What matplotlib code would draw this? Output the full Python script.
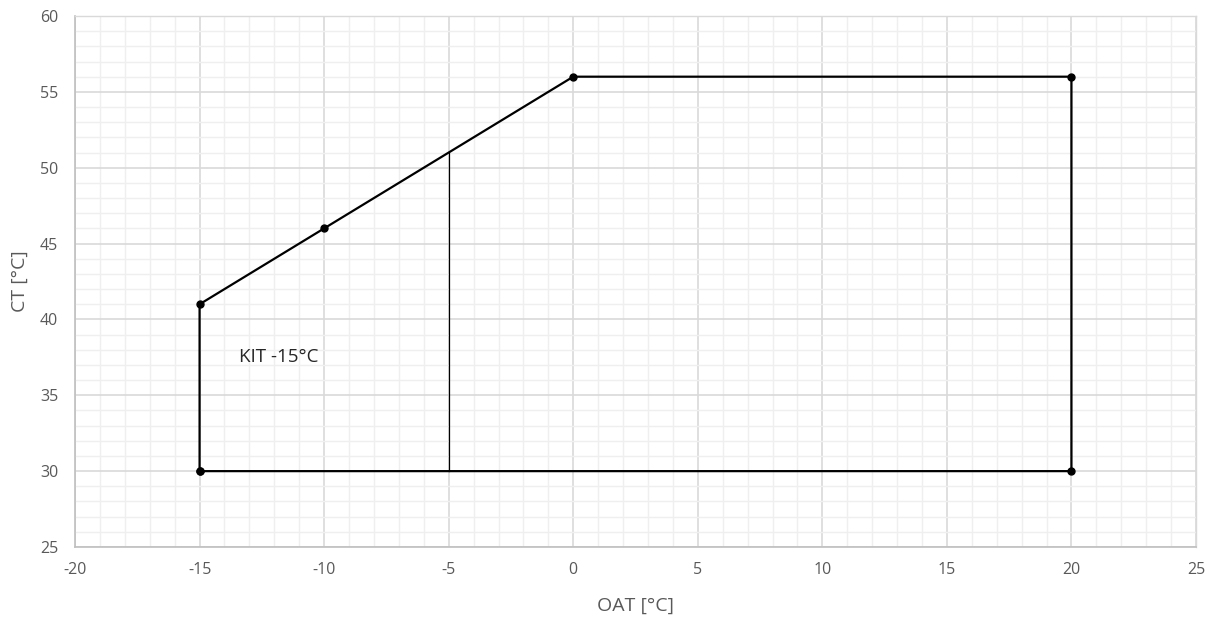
import matplotlib
matplotlib.use("Agg")
import matplotlib.pyplot as plt
from matplotlib.ticker import MultipleLocator

plt.rcParams['font.family'] = ['Open Sans', 'DejaVu Sans']
plt.rcParams['axes.unicode_minus'] = False

# Envelope data
oat = [-15, -15, -10, 0, 20, 20, -15]
ct = [30, 41, 46, 56, 56, 30, 30]
# Divider line
div_x = [-5, -5]
div_y = [30, 51]
label_text = "KIT -15°C"

fig = plt.figure(figsize=(12.12, 6.18), dpi=100)
ax = fig.add_axes([0.0619, 0.1149, 0.9249, 0.8592])

ax.set_xlim(-20, 25)
ax.set_ylim(25, 60)
ax.xaxis.set_major_locator(MultipleLocator(5))
ax.yaxis.set_major_locator(MultipleLocator(5))
ax.xaxis.set_minor_locator(MultipleLocator(1))
ax.yaxis.set_minor_locator(MultipleLocator(1))
ax.grid(which='major', color='#D9D9D9', lw=1.2, zorder=0)
ax.grid(which='minor', color='#EFEFEF', lw=1.0, zorder=0)
ax.set_axisbelow(True)
ax.tick_params(which='both', length=0, colors='#595959', labelsize=11.5)
ax.tick_params(axis='x', pad=11)
ax.tick_params(axis='y', pad=12)

for s in ['left', 'bottom']:
    ax.spines[s].set_color('#BFBFBF')
    ax.spines[s].set_linewidth(1.2)
for s in ['top', 'right']:
    ax.spines[s].set_color('#D9D9D9')
    ax.spines[s].set_linewidth(1.0)

ax.plot(oat, ct, color='black', lw=1.6, marker='o', markersize=5, zorder=3)
ax.plot(div_x, div_y, color='black', lw=0.9, zorder=3)
ax.text(-13.4, 37.5, label_text, fontsize=13.5, color='#262626', va='center', ha='left')

ax.set_xlabel('OAT [°C]', fontsize=14, color='#595959', labelpad=13)
ax.set_ylabel('CT [°C]', fontsize=14, color='#595959', labelpad=8)

fig.savefig('out.png', dpi=100)
